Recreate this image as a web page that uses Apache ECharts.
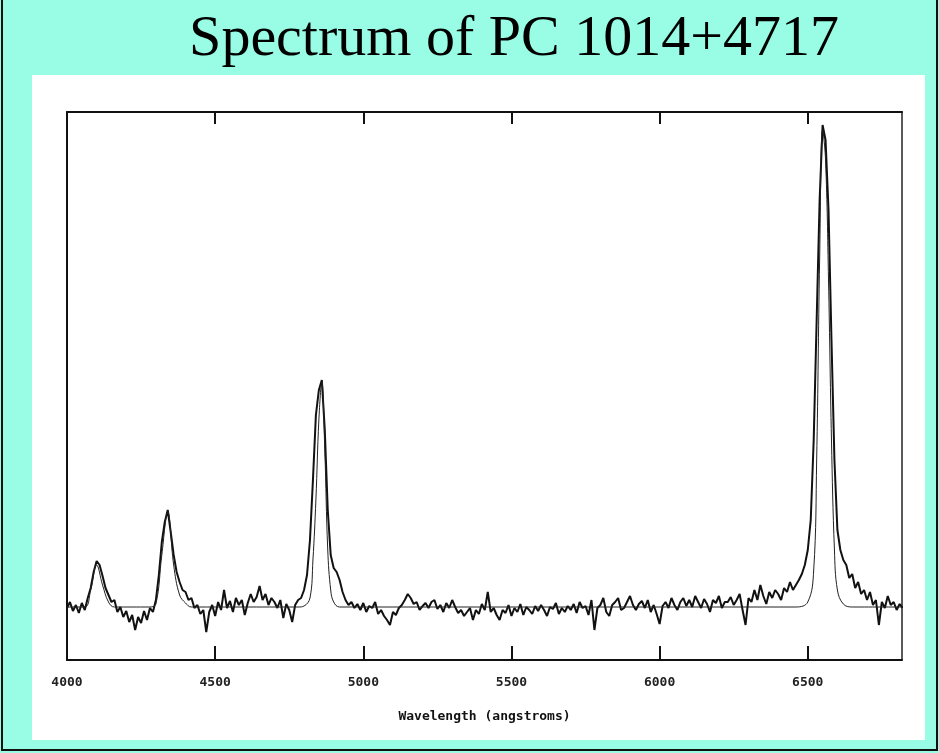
<!DOCTYPE html>
<html>
<head>
<meta charset="utf-8">
<script src="https://cdn.jsdelivr.net/npm/echarts@6/dist/echarts.min.js"></script>
<style>
  html, body { margin: 0; padding: 0; }
  body { width: 939px; height: 753px; background: #98fde4; position: relative; overflow: hidden; }
  #frame { position: absolute; left: 1px; top: 0; width: 933px; height: 749px; border: 2px solid #111; border-top: none; }
  #panel { position: absolute; left: 32px; top: 75px; width: 893px; height: 665px; background: #fff; }
  #chart { position: absolute; left: 0; top: 0; width: 939px; height: 753px; }
</style>
</head>
<body>
<div id="frame"></div>
<div id="panel"></div>
<div id="chart"></div>
<script>
// wavelength grid (angstroms) and the measured flux, in plot units
let wavelengths = [];
for (let w = 4000; w <= 6820; w += 10) wavelengths.push(w);

let observedFlux = [
    52, 58, 49, 55, 47, 57, 50, 62, 72, 88,
    99, 95, 84, 72, 65, 58, 60, 48, 53, 43,
    49, 38, 45, 30, 43, 37, 49, 40, 52, 48,
    60, 85, 118, 138, 150, 128, 105, 88, 78, 70,
    68, 60, 62, 52, 55, 46, 50, 28, 48, 55,
    44, 58, 50, 70, 52, 59, 48, 62, 55, 60,
    45, 57, 66, 58, 63, 74, 60, 66, 55, 62,
    58, 52, 60, 42, 56, 50, 38, 55, 60, 62,
    70, 85, 120, 180, 245, 270, 280, 230, 150, 105,
    92, 88, 80, 68, 60, 55, 58, 52, 56, 50,
    57, 48, 54, 52, 58, 46, 50, 44, 40, 35,
    48, 45, 52, 55, 60, 66, 62, 56, 58, 50,
    54, 57, 52, 58, 60, 51, 55, 48, 57, 52,
    60, 53, 47, 50, 44, 48, 52, 40, 50, 46,
    56, 50, 68, 48, 52, 45, 40, 50, 47, 55,
    44, 52, 48, 56, 45, 53, 50, 46, 54, 49,
    55, 50, 44, 53, 51, 57, 46, 52, 48, 54,
    50, 56, 47, 58, 52, 54, 45, 60, 30, 52,
    55, 62, 48, 44, 55, 58, 62, 50, 52, 58,
    64, 55, 50, 56, 59, 52, 60, 48, 55, 46,
    36, 54, 58, 52, 62, 55, 50, 58, 62, 54,
    60, 53, 64, 58, 52, 61, 56, 48, 60, 57,
    64, 52, 58, 58, 63, 55, 60, 66, 50, 35,
    62, 58, 70, 60, 75, 64, 56, 68, 62, 70,
    66, 60, 72, 68, 78, 70, 75, 80, 86, 95,
    110, 140, 220, 340, 460, 535, 520, 450, 320, 200,
    130, 110, 100, 95, 82, 86, 72, 78, 66, 70,
    60, 68, 55, 60, 35, 58, 52, 64, 55, 58,
    50, 56, 52
];

// fitted model: wavelengths and flux
let modelWave = [4000, 4060, 4080, 4100, 4120, 4140, 4160, 4280, 4300, 4320, 4340, 4360, 4380, 4400, 4420,
    4780, 4800, 4820, 4830, 4840, 4850, 4860, 4870, 4880, 4890, 4900, 4920,
    6460, 6500, 6520, 6530, 6540, 6550, 6560, 6570, 6580, 6590, 6600, 6620, 6650, 6820];
let modelFlux = [53, 53, 70, 95, 75, 58, 53, 53, 56, 105, 148, 95, 65, 57, 53,
    53, 54, 62, 100, 160, 240, 278, 210, 110, 70, 58, 53,
    53, 58, 90, 200, 400, 530, 500, 380, 220, 110, 70, 56, 53, 53];

let tickValues = [4000, 4500, 5000, 5500, 6000, 6500];

let chart = echarts.init(document.getElementById('chart'));
let axisBase = {
    type: 'value', min: 4000, max: 6818,
    axisLine: { show: true, onZero: false, lineStyle: { color: '#111', width: 2 } },
    splitLine: { show: false }
};
let option = {
    animation: false,
    title: {
        text: 'Spectrum of PC 1014+4717',
        left: 509, top: 6, textAlign: 'center',
        textStyle: { fontFamily: 'Liberation Serif', fontWeight: 'normal', fontSize: 58, color: '#000' }
    },
    grid: { left: 67, right: 37, top: 112, bottom: 93 },
    xAxis: [
        Object.assign({}, axisBase, {
            position: 'bottom',
            name: 'Wavelength (angstroms)', nameLocation: 'middle', nameGap: 50,
            nameTextStyle: { fontFamily: 'DejaVu Sans Mono', fontWeight: 'bold', fontSize: 13, color: '#111' },
            axisTick: { inside: true, length: 14, customValues: tickValues, lineStyle: { width: 2, color: '#111' } },
            axisLabel: { customValues: tickValues, margin: 16, formatter: v => String(v),
                fontFamily: 'DejaVu Sans Mono', fontWeight: 'bold', fontSize: 13, color: '#222' }
        }),
        Object.assign({}, axisBase, {
            position: 'top',
            axisTick: { inside: true, length: 12, customValues: tickValues, lineStyle: { width: 2, color: '#111' } },
            axisLabel: { show: false }
        })
    ],
    yAxis: [
        { type: 'value', min: 0, max: 548, position: 'left',
          axisLine: { show: true, onZero: false, lineStyle: { color: '#111', width: 2 } },
          axisTick: { show: false }, axisLabel: { show: false }, splitLine: { show: false } },
        { type: 'value', min: 0, max: 548, position: 'right',
          axisLine: { show: true, onZero: false, lineStyle: { color: '#222', width: 1.5 } },
          axisTick: { show: false }, axisLabel: { show: false }, splitLine: { show: false } }
    ],
    series: [
        {
            name: 'observed', type: 'line', showSymbol: false,
            data: wavelengths.map((w, i) => [w, observedFlux[i]]),
            lineStyle: { color: '#111', width: 2 }
        },
        {
            name: 'model', type: 'line', showSymbol: false, smooth: 0.4,
            data: modelWave.map((w, i) => [w, modelFlux[i]]),
            lineStyle: { color: '#222', width: 1 }
        }
    ]
};
chart.setOption(option);
</script>
</body>
</html>
